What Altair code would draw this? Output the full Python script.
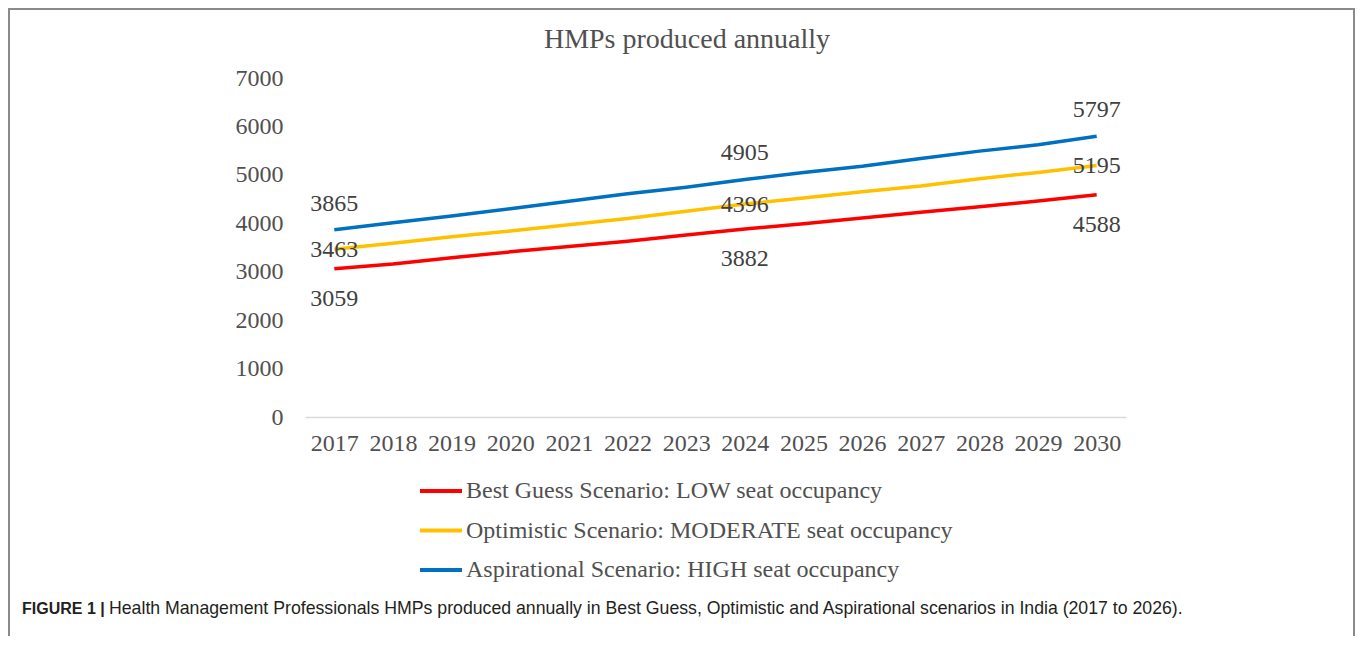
import altair as alt
import pandas as pd

# ---------------- data ----------------
years = [2017, 2018, 2019, 2020, 2021, 2022, 2023, 2024, 2025, 2026, 2027, 2028, 2029, 2030]
low_values = [3059, 3160, 3290, 3410, 3520, 3630, 3760, 3882, 3990, 4110, 4230, 4340, 4460, 4588]
moderate_values = [3463, 3590, 3720, 3840, 3970, 4100, 4250, 4396, 4520, 4650, 4770, 4920, 5050, 5195]
high_values = [3865, 4010, 4150, 4300, 4455, 4610, 4745, 4905, 5050, 5180, 5340, 5490, 5620, 5797]

series_names = [
    "Best Guess Scenario: LOW seat occupancy",
    "Optimistic Scenario: MODERATE seat occupancy",
    "Aspirational Scenario: HIGH seat occupancy",
]
series_colors = ["#FF0000", "#FFC000", "#0070C0"]
labelled_years = [2017, 2024, 2030]
y_ticks = [0, 1000, 2000, 3000, 4000, 5000, 6000, 7000]

title_text = "HMPs produced annually"
caption_bold = "FIGURE 1 |"
caption_rest = ("Health Management Professionals HMPs produced annually in Best Guess, "
                "Optimistic and Aspirational scenarios in India (2017 to 2026).")

# ---------------- table ----------------
rows = []
for name, vals in zip(series_names, [low_values, moderate_values, high_values]):
    for yr, v in zip(years, vals):
        rows.append({"year": str(yr), "value": v, "series": name,
                     "labelled": yr in labelled_years})
df = pd.DataFrame(rows)

SERIF = "Liberation Serif"
SANS = "Liberation Sans"
TXT = "#505050"

W, H = 821, 339
PAD_L, PAD_T = 297, 70
TOT_W, TOT_H = 1347, 628

x_enc = alt.X("year:O", title=None, sort=[str(y) for y in years],
              scale=alt.Scale(padding=0.5),
              axis=alt.Axis(labelAngle=0, labelFont=SERIF, labelFontSize=24,
                            labelColor=TXT, ticks=False, domainColor="#d9d9d9",
                            domainWidth=1.5, labelPadding=14, grid=False))
y_enc = alt.Y("value:Q", title=None,
              scale=alt.Scale(domain=[0, 7000], nice=False, zero=True),
              axis=alt.Axis(values=y_ticks, format="d", labelFont=SERIF,
                            labelFontSize=24, labelColor=TXT, ticks=False,
                            domain=False, grid=False, labelPadding=22))

color_enc = alt.Color("series:N", sort=series_names,
                      scale=alt.Scale(domain=series_names, range=series_colors),
                      legend=alt.Legend(orient="none", legendX=113, legendY=390,
                                        direction="vertical", title=None,
                                        symbolType="stroke", symbolSize=1764,
                                        symbolStrokeWidth=4, labelFont=SERIF,
                                        labelFontSize=24, labelColor=TXT,
                                        labelOffset=2, rowPadding=4.5,
                                        labelLimit=0))

base = alt.Chart(df)

lines = base.mark_line(strokeWidth=3.5).encode(x=x_enc, y=y_enc, color=color_enc,
                                               order=alt.Order("year:O"))

def label_layer(name, dy):
    return base.transform_filter(
        (alt.datum.series == name) & (alt.datum.labelled == True)
    ).mark_text(font=SERIF, fontSize=24, color="#404040", dy=dy,
                baseline="middle", align="center").encode(
        x=alt.X("year:O", sort=[str(y) for y in years]),
        y="value:Q",
        text=alt.Text("value:Q", format="d"),
    )

labels = [label_layer(series_names[0], 30),
          label_layer(series_names[1], 1),
          label_layer(series_names[2], -26)]

one = alt.Data(values=[{"k": 1}])

frame = alt.Chart(one).mark_rect(fill=None, stroke="#8a8a8a", strokeWidth=2).encode(
    x=alt.value(-PAD_L + 1), x2=alt.value(TOT_W - PAD_L - 1),
    y=alt.value(-PAD_T + 1), y2=alt.value(TOT_H - PAD_T + 20))

title_mark = alt.Chart(one).mark_text(text=title_text, font=SERIF, fontSize=28,
                                      color=TXT, align="center",
                                      baseline="middle").encode(
    x=alt.value(382), y=alt.value(-38))

cap1 = alt.Chart(one).mark_text(text=caption_bold, font=SANS, fontSize=16,
                                fontWeight="bold", color="#231f20", align="left",
                                baseline="middle").encode(
    x=alt.value(22 - 305), y=alt.value(609 - 78))
cap2 = alt.Chart(one).mark_text(text=caption_rest, font=SANS, fontSize=17.7,
                                color="#231f20", align="left",
                                baseline="middle").encode(
    x=alt.value(109 - 305), y=alt.value(609 - 78))

chart = alt.layer(frame, lines, *labels, title_mark, cap1, cap2).properties(
    width=W, height=H,
    autosize=alt.AutoSizeParams(type="none"),
    padding={"left": PAD_L, "top": PAD_T, "right": TOT_W - PAD_L - W,
             "bottom": TOT_H - PAD_T - H},
    background="white",
).configure_view(stroke=None)

chart.save("out.html", embed_options={"renderer": "svg", "actions": False})
